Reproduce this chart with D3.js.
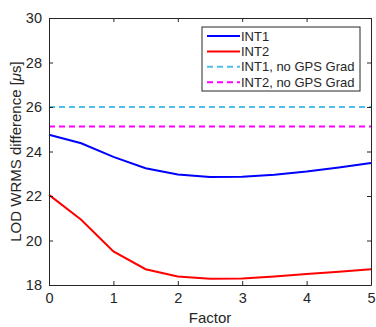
<!DOCTYPE html>
<html>
<head>
<meta charset="utf-8">
<script src="https://cdn.jsdelivr.net/npm/d3@7"></script>
<style>
  body { margin: 0; background: #fff; }
  text { font-family: "Liberation Sans", Arial, sans-serif; fill: #262626; }
</style>
</head>
<body>
<svg id="plot"></svg>
<script>
const factors = [0, 0.5, 1, 1.5, 2, 2.5, 3, 3.5, 4, 4.5, 5];
const int1 = [24.75, 24.37, 23.76, 23.25, 22.97, 22.85, 22.86, 22.96, 23.1, 23.28, 23.48];
const int2 = [22.05, 20.93, 19.51, 18.71, 18.38, 18.28, 18.29, 18.38, 18.49, 18.6, 18.71];
const int1NoGrad = 26.0;
const int2NoGrad = 25.12;
const xTicks = [0, 1, 2, 3, 4, 5];
const yTicks = [18, 20, 22, 24, 26, 28, 30];

const series = [
    { name: "INT1", values: int1, color: "#0000ff", dash: null },
    { name: "INT2", values: int2, color: "#ff0000", dash: null },
    { name: "INT1, no GPS Grad", level: int1NoGrad, color: "#4dbeee", dash: "6,4" },
    { name: "INT2, no GPS Grad", level: int2NoGrad, color: "#ff00ff", dash: "6,4" }
];

const margin = { top: 18, left: 49, right: 5, bottom: 42 };
const width = 376 - margin.left - margin.right;
const height = 327 - margin.top - margin.bottom;

const svg = d3.select("#plot").attr("width", 376).attr("height", 327);
const g = svg.append("g").attr("transform", `translate(${margin.left},${margin.top})`);

const x = d3.scaleLinear().domain([0, 5]).range([0, width]);
const y = d3.scaleLinear().domain([18, 30]).range([height, 0]);

// lines
series.forEach(s => {
    const vals = s.values ? s.values : [s.level, s.level];
    const xs = s.values ? factors : [0, 5];
    g.append("path")
        .datum(vals)
        .attr("fill", "none")
        .attr("stroke", s.color)
        .attr("stroke-width", 2)
        .attr("stroke-dasharray", s.dash)
        .attr("d", d3.line().x((d, i) => x(xs[i])).y(d => y(d)));
});

// axes (MATLAB style, ticks inward, box)
const axisStyle = sel => {
    sel.select(".domain").attr("stroke", "#262626");
    sel.selectAll(".tick line").attr("stroke", "#262626");
    sel.selectAll("text").style("font-size", "14.5px").attr("fill", "#262626");
};
g.append("g").attr("transform", `translate(0,${height})`)
    .call(d3.axisBottom(x).tickValues(xTicks).tickSizeInner(-4).tickSizeOuter(0).tickPadding(8).tickFormat(d3.format("d")))
    .call(axisStyle);
g.append("g")
    .call(d3.axisTop(x).tickValues(xTicks).tickSizeInner(-4).tickSizeOuter(0).tickFormat(""))
    .call(axisStyle);
g.append("g")
    .call(d3.axisLeft(y).tickValues(yTicks).tickSizeInner(-4).tickSizeOuter(0).tickPadding(7).tickFormat(d3.format("d")))
    .call(axisStyle);
g.append("g").attr("transform", `translate(${width},0)`)
    .call(d3.axisRight(y).tickValues(yTicks).tickSizeInner(-4).tickSizeOuter(0).tickFormat(""))
    .call(axisStyle);

// axis labels
svg.append("text")
    .attr("x", margin.left + width / 2).attr("y", 323)
    .attr("text-anchor", "middle").style("font-size", "15px")
    .text("Factor");
const yl = svg.append("text")
    .attr("transform", `translate(21,${margin.top + height / 2}) rotate(-90)`)
    .attr("text-anchor", "middle").style("font-size", "15px");
yl.append("tspan").text("LOD WRMS difference [");
yl.append("tspan").style("font-style", "italic").text("\u03bc");
yl.append("tspan").text("s]");

// legend
const lg = svg.append("g").attr("transform", "translate(202,27)");
lg.append("rect").attr("width", 158).attr("height", 64)
    .attr("fill", "#fff").attr("stroke", "#262626").attr("stroke-width", 1);
series.forEach((s, i) => {
    const yy = 9 + i * 15.4;
    lg.append("line").attr("x1", 5).attr("x2", 38).attr("y1", yy).attr("y2", yy)
        .attr("stroke", s.color).attr("stroke-width", 2).attr("stroke-dasharray", s.dash);
    lg.append("text").attr("x", 39).attr("y", yy + 4.5).style("font-size", "13px").text(s.name);
});
</script>
</body>
</html>
